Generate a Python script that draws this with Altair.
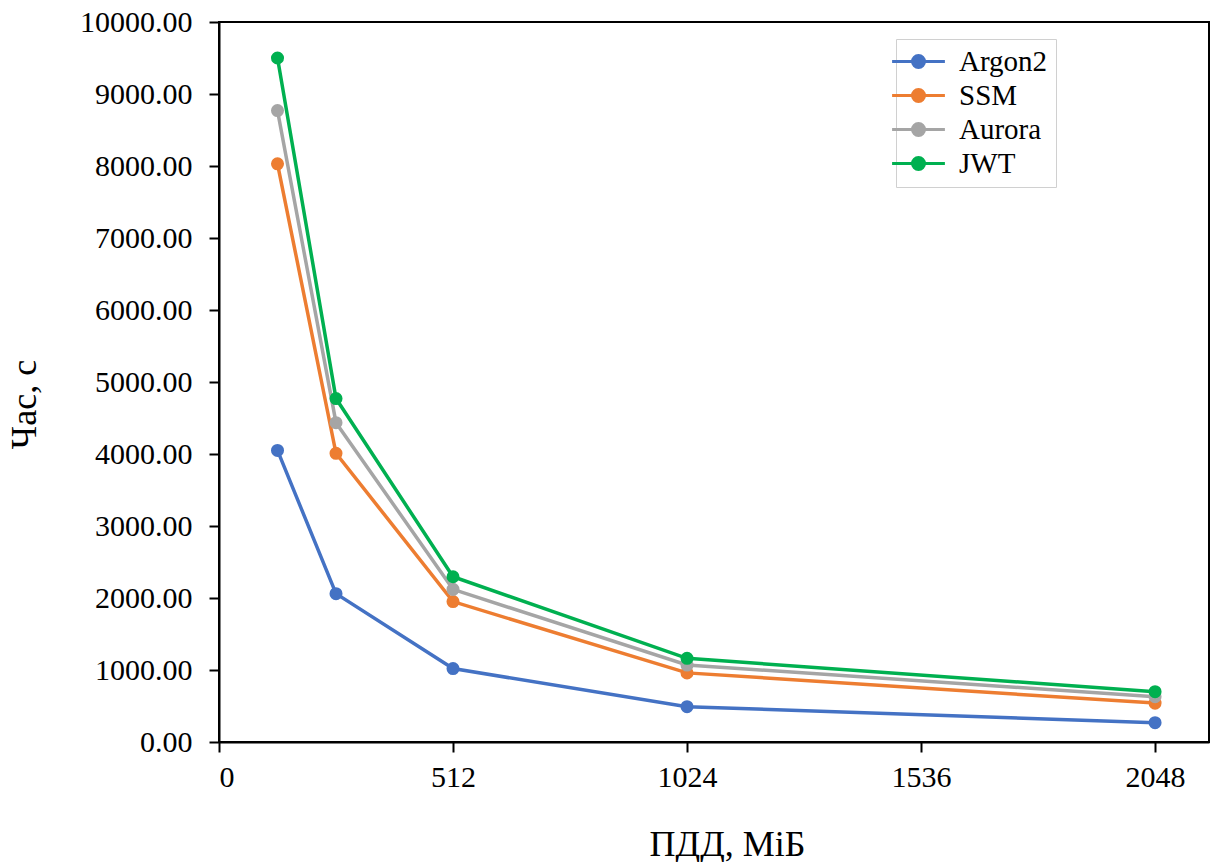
import altair as alt
import pandas as pd

mem = [128, 256, 512, 1024, 2048]
series = ["Argon2", "SSM", "Aurora", "JWT"]
argon2 = [4050, 2060, 1020, 490, 268]
ssm = [8030, 4010, 1950, 960, 540]
aurora = [8770, 4435, 2120, 1069, 630]
jwt = [9500, 4770, 2295, 1162, 699]
colors = ["#4472C4", "#ED7D31", "#A5A5A5", "#00B050"]

rows = []
for name, vals in zip(series, [argon2, ssm, aurora, jwt]):
    for m, v in zip(mem, vals):
        rows.append({"mem": m, "time": v, "series": name, "order": series.index(name)})
df = pd.DataFrame(rows)

FONT = "Liberation Serif"
sym = "M-4.4,0L4.4,0M1,0A1,1,0,1,1,-1,0A1,1,0,1,1,1,0Z"

color = alt.Color(
    "series:N",
    sort=series,
    scale=alt.Scale(domain=series, range=colors),
    legend=alt.Legend(
        title=None,
        orient="none",
        legendX=677,
        legendY=17,
        symbolType=sym,
        symbolSize=144,
        symbolStrokeWidth=3,
        labelFont=FONT,
        labelFontSize=29,
        labelColor="black",
        labelOffset=26,
        padding=8,
        strokeColor="#d0d0d0",
        fillColor="white",
        rowPadding=4,
    ),
)

x = alt.X(
    "mem:Q",
    scale=alt.Scale(domain=[0, 2166], nice=False),
    axis=alt.Axis(
        values=[0, 512, 1024, 1536, 2048],
        format="d",
        title="ПДД, МіБ",
        grid=False,
        labelPadding=10,
        titleX=508,
        titleY=113,
        titleBaseline="alphabetic",
        titleAlign="center",
    ),
)
y = alt.Y(
    "time:Q",
    scale=alt.Scale(domain=[0, 10000], nice=False),
    axis=alt.Axis(
        values=list(range(0, 10001, 1000)),
        format=".2f",
        title="Час, с",
        grid=False,
        labelPadding=17,
        titleX=-176,
        titleY=382,
        titleAlign="center",
        titleAngle=270,
    ),
)

base = alt.Chart(df).encode(x=x, y=y, color=color, order="order:Q", detail="series:N")
lines = base.mark_line(strokeWidth=3.5)
points = base.mark_circle(size=170, opacity=1)

chart = (
    alt.layer(lines, points)
    .properties(
        width=990,
        height=720,
        autosize=alt.AutoSizeParams(type="none"),
        padding={"left": 219, "top": 22, "right": 3, "bottom": 120},
        background="white",
    )
    .configure_view(stroke="black", strokeWidth=2)
    .configure_legend(labelFont=FONT, labelFontSize=29, labelColor="black")
    .configure_axis(
        domainColor="black",
        domainWidth=2,
        tickColor="black",
        tickWidth=2,
        tickSize=10,
        labelFont=FONT,
        labelFontSize=30,
        labelColor="black",
        titleFont=FONT,
        titleFontSize=36,
        titleFontWeight="normal",
        titleColor="black",
    )
)

chart.save("out.html", embed_options={"renderer": "svg", "actions": False})
